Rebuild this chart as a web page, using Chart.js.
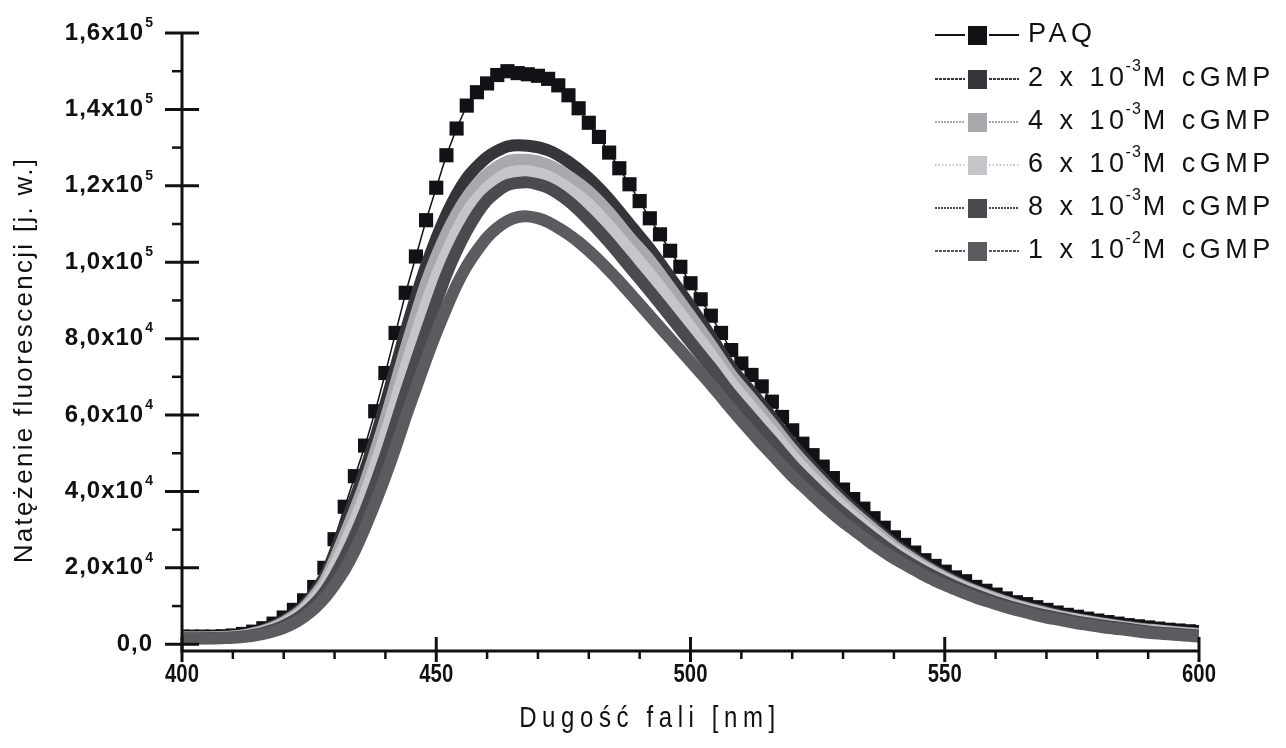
<!DOCTYPE html>
<html>
<head>
<meta charset="utf-8">
<script src="https://cdn.jsdelivr.net/npm/chart.js@4.4.1/dist/chart.umd.min.js"></script>
<style>
  html, body { margin: 0; padding: 0; background: #fff; }
  canvas { display: block; }
</style>
</head>
<body>
<canvas id="spectraChart" width="1286" height="748"></canvas>
<script>
// Wavelength grids [nm]
const wavelengthFine = [400, 402, 404, 406, 408, 410, 412, 414, 416, 418,
  420, 422, 424, 426, 428, 430, 432, 434, 436, 438,
  440, 442, 444, 446, 448, 450, 452, 454, 456, 458,
  460, 462, 464, 466, 468, 470, 472, 474, 476, 478,
  480, 482, 484, 486, 488, 490, 492, 494, 496, 498,
  500, 502, 504, 506, 508, 510, 512, 514, 516, 518,
  520, 522, 524, 526, 528, 530, 532, 534, 536, 538,
  540, 542, 544, 546, 548, 550, 552, 554, 556, 558,
  560, 562, 564, 566, 568, 570, 572, 574, 576, 578,
  580, 582, 584, 586, 588, 590, 592, 594, 596, 598, 600];

const wavelengthCoarse = [400, 404, 408, 412, 416, 420, 424, 428, 432, 436,
  440, 444, 448, 452, 456, 460, 464, 468, 472, 476,
  480, 484, 488, 492, 496, 500, 504, 508, 512, 516,
  520, 524, 528, 532, 536, 540, 544, 548, 552, 556,
  560, 564, 568, 572, 576, 580, 584, 588, 592, 596, 600];

// Fluorescence intensity
const paqValues = [2000, 2000, 2000, 2000, 2100, 2300, 2700, 3300, 4200, 5400,
  7000, 9000, 11500, 15000, 20000, 27500, 36000, 44000, 52000, 61000,
  71000, 81500, 92000, 101500, 111000, 119500, 128000, 135000, 141000, 144500,
  146800, 149000, 150000, 149500, 149200, 148800, 148000, 146300, 143700, 140300,
  136500, 132800, 128700, 124600, 120400, 116000, 111500, 107300, 103000, 98800,
  94500, 90300, 86000, 81500, 77000, 73500, 70500, 67500, 63500, 59500,
  56000, 52500, 49500, 46500, 43500, 40500, 38000, 35500, 33000, 30500,
  28000, 26000, 24000, 22000, 20500, 19000, 17500, 16500, 15000, 14000,
  13000, 12000, 11000, 10500, 9700, 9000, 8300, 7700, 7200, 6700,
  6200, 5800, 5400, 5000, 4700, 4400, 4100, 3800, 3600, 3400, 3200];

const cgmp2e3 = [1850, 1850, 1950, 2460, 3750, 6190, 10210, 17600, 31050, 45550,
  62900, 82000, 99000, 112500, 122000, 127500, 130300, 130500, 129300, 126300,
  122000, 116500, 110000, 103500, 96100, 88500, 80600, 72400, 66000, 59400,
  52400, 46400, 40700, 35600, 30900, 26400, 22700, 19400, 16600, 14200,
  12300, 10400, 9100, 7800, 6700, 5800, 5000, 4300, 3700, 3200, 2800];

const cgmp4e3 = [1780, 1780, 1880, 2340, 3530, 5790, 9570, 16400, 28600, 42300,
  58900, 77400, 94500, 107500, 117000, 123000, 126400, 126800, 125500, 122500,
  118500, 113000, 106500, 100500, 93300, 85900, 78400, 70500, 64200, 57700,
  51000, 45100, 39600, 34600, 30100, 25700, 22100, 18900, 16200, 13900,
  12000, 10200, 8800, 7500, 6500, 5600, 4800, 4100, 3600, 3100, 2700];

const cgmp6e3 = [1700, 1700, 1800, 2220, 3300, 5380, 8920, 15200, 26100, 39100,
  54800, 72500, 89000, 102500, 113000, 119500, 123300, 123800, 122400, 119300,
  115200, 109500, 103300, 97000, 90100, 83000, 75900, 68400, 62100, 55800,
  49300, 43600, 38300, 33500, 29100, 24900, 21500, 18400, 15800, 13500,
  11600, 9900, 8500, 7300, 6300, 5400, 4600, 3900, 3400, 2900, 2500];

const cgmp8e3 = [1600, 1600, 1700, 2060, 3000, 4840, 8060, 13600, 22800, 34800,
  49400, 66000, 81800, 96800, 108200, 116200, 120200, 120900, 119500, 116000,
  111000, 105200, 98800, 92400, 85800, 79100, 72500, 65500, 59300, 53200,
  47000, 41600, 36500, 32000, 27800, 23900, 20600, 17700, 15200, 13000,
  11100, 9500, 8100, 7000, 5900, 5100, 4400, 3700, 3100, 2700, 2300];

const cgmp1e2 = [1500, 1500, 1500, 1500, 1600, 1700, 1900, 2200, 2700, 3400,
  4300, 5500, 7200, 9300, 12000, 15500, 19500, 24500, 30500, 37000,
  44000, 51500, 59500, 67000, 74500, 81500, 88000, 94000, 99000, 103000,
  106500, 109000, 110800, 111800, 112000, 111500, 110500, 109000, 107300, 105300,
  103000, 100500, 97800, 95000, 92000, 89000, 86000, 83000, 80000, 77000,
  74000, 71000, 68000, 64800, 61600, 58500, 55500, 52500, 49700, 46800,
  44000, 41500, 39000, 36500, 34200, 32000, 30000, 28000, 26000, 24200,
  22500, 21000, 19500, 18000, 16700, 15500, 14400, 13300, 12300, 11400,
  10500, 9700, 9000, 8300, 7600, 7000, 6500, 6000, 5500, 5100,
  4700, 4300, 4000, 3700, 3300, 3000, 2800, 2600, 2400, 2200, 2000];

// Legend text parts: base, exponent, tail
const legendBase = ['PAQ', '2 x 10', '4 x 10', '6 x 10', '8 x 10', '1 x 10'];
const legendExp = ['', '-3', '-3', '-3', '-3', '-2'];
const legendTail = ['', 'M cGMP', 'M cGMP', 'M cGMP', 'M cGMP', 'M cGMP'];

// Axis ticks
const xMajorTicks = [400, 450, 500, 550, 600];
const xMinorTicks = [410, 420, 430, 440, 460, 470, 480, 490, 510, 520, 530, 540, 560, 570, 580, 590];
const yMajorTicks = [0, 20000, 40000, 60000, 80000, 100000, 120000, 140000, 160000];
const yMinorTicks = [10000, 30000, 50000, 70000, 90000, 110000, 130000, 150000];
const yTickBase = ['0,0', '2,0x10', '4,0x10', '6,0x10', '8,0x10', '1,0x10', '1,2x10', '1,4x10', '1,6x10'];
const yTickExp = ['', '4', '4', '4', '4', '5', '5', '5', '5'];

const xTitle = 'Dugość fali [nm]';
const yTitle = 'Natężenie fluorescencji [j. w.]';

function toPoints(xs, ys) {
    return xs.map((x, i) => ({ x: x, y: ys[i] }));
}

// Series styles (legend line dash goes with them)
const seriesStyle = [
    { color: '#121216', dash: [] },
    { color: '#36363a', dash: [3, 1] },
    { color: '#a9a9ad', dash: [2, 1] },
    { color: '#c6c6ca', dash: [1.5, 2] },
    { color: '#4b4b4f', dash: [2, 1] },
    { color: '#5c5c60', dash: [3, 1] }
];

function grayBand(label, xs, ys, idx, order) {
    return {
        label: label,
        data: toPoints(xs, ys),
        borderColor: seriesStyle[idx].color,
        backgroundColor: seriesStyle[idx].color,
        borderWidth: 12,
        borderJoinStyle: 'round',
        borderCapStyle: 'round',
        pointRadius: 0,
        tension: 0.25,
        order: order
    };
}

// Axes, tick labels, titles and legend drawn on top of the plot
const decorPlugin = {
    id: 'decor',
    afterDraw(chart) {
        const ctx = chart.ctx;
        const area = chart.chartArea;
        const xs = chart.scales.x;
        const ys = chart.scales.y;
        ctx.save();
        ctx.strokeStyle = '#111';
        ctx.fillStyle = '#111';

        // axis lines
        ctx.lineWidth = 3;
        ctx.beginPath();
        ctx.moveTo(area.left, area.top);
        ctx.lineTo(area.left, area.bottom + 1);
        ctx.lineTo(area.right, area.bottom + 1);
        ctx.stroke();

        // y ticks
        yMajorTicks.forEach(v => {
            const py = ys.getPixelForValue(v);
            ctx.beginPath();
            ctx.moveTo(area.left - 17, py);
            ctx.lineTo(area.left + 17, py);
            ctx.stroke();
        });
        ctx.lineWidth = 2.5;
        yMinorTicks.forEach(v => {
            const py = ys.getPixelForValue(v);
            ctx.beginPath();
            ctx.moveTo(area.left - 10, py);
            ctx.lineTo(area.left, py);
            ctx.stroke();
        });

        // x ticks
        ctx.lineWidth = 3;
        xMajorTicks.forEach(v => {
            const px = xs.getPixelForValue(v);
            ctx.beginPath();
            ctx.moveTo(px, area.bottom - 13);
            ctx.lineTo(px, area.bottom + 12);
            ctx.stroke();
        });
        ctx.lineWidth = 2.5;
        xMinorTicks.forEach(v => {
            const px = xs.getPixelForValue(v);
            ctx.beginPath();
            ctx.moveTo(px, area.bottom);
            ctx.lineTo(px, area.bottom + 9);
            ctx.stroke();
        });

        // y tick labels with raised exponent
        ctx.textBaseline = 'middle';
        yMajorTicks.forEach((v, i) => {
            const py = ys.getPixelForValue(v);
            const right = area.left - 29;
            let baseRight = right;
            if (yTickExp[i]) {
                ctx.font = 'bold 14px "Liberation Sans", Arial, sans-serif';
                ctx.textAlign = 'right';
                ctx.fillText(yTickExp[i], right, py - 10);
                baseRight = right - ctx.measureText(yTickExp[i]).width - 1;
            }
            ctx.font = 'bold 24px "Liberation Sans", Arial, sans-serif';
            ctx.letterSpacing = '1px';
            ctx.textAlign = 'right';
            ctx.fillText(yTickBase[i], baseRight, py);
            ctx.letterSpacing = '0px';
        });

        // x tick labels, condensed bold
        ctx.font = 'bold 26px "Liberation Sans", Arial, sans-serif';
        ctx.textAlign = 'center';
        xMajorTicks.forEach(v => {
            const px = xs.getPixelForValue(v);
            ctx.save();
            ctx.translate(px, area.bottom + 25);
            ctx.scale(0.78, 1);
            ctx.fillText(String(v), 0, 0);
            ctx.restore();
        });

        // x title
        ctx.save();
        ctx.font = '30px "Liberation Sans", Arial, sans-serif';
        ctx.letterSpacing = '7px';
        ctx.translate(650, 719);
        ctx.scale(0.8, 1);
        ctx.textAlign = 'center';
        ctx.fillText(xTitle, 0, 0);
        ctx.restore();

        // y title
        ctx.save();
        ctx.font = '26px "Liberation Sans", Arial, sans-serif';
        ctx.letterSpacing = '2.3px';
        ctx.translate(25, 360);
        ctx.rotate(-Math.PI / 2);
        ctx.textAlign = 'center';
        ctx.fillText(yTitle, 0, 0);
        ctx.restore();

        // legend
        const rowY = [35, 79, 122, 165, 208, 251];
        chart.data.datasets.forEach((ds, i) => {
            const y = rowY[i];
            const st = seriesStyle[i];
            ctx.strokeStyle = i === 0 ? '#111' : st.color;
            ctx.lineWidth = 2;
            ctx.setLineDash(st.dash);
            ctx.beginPath();
            ctx.moveTo(935, y);
            ctx.lineTo(965, y);
            ctx.moveTo(989, y);
            ctx.lineTo(1019, y);
            ctx.stroke();
            ctx.setLineDash([]);
            ctx.fillStyle = st.color;
            ctx.fillRect(968, y - 9, 19, 19);

            ctx.fillStyle = '#111';
            ctx.textAlign = 'left';
            ctx.textBaseline = 'middle';
            ctx.font = '27px "Liberation Sans", Arial, sans-serif';
            ctx.letterSpacing = '4.5px';
            let x = 1028;
            ctx.fillText(legendBase[i], x, y);
            x += ctx.measureText(legendBase[i]).width;
            if (legendExp[i]) {
                ctx.font = '16px "Liberation Sans", Arial, sans-serif';
                ctx.letterSpacing = '1px';
                ctx.fillText(legendExp[i], x - 3, y - 12);
                x += ctx.measureText(legendExp[i]).width - 2;
                ctx.font = '27px "Liberation Sans", Arial, sans-serif';
                ctx.letterSpacing = '4.5px';
                ctx.fillText(legendTail[i], x, y);
            }
        });
        ctx.letterSpacing = '0px';
        ctx.restore();
    }
};

const spectraCtx = document.getElementById('spectraChart').getContext('2d');
window.spectraChart = new Chart(spectraCtx, {
    type: 'line',
    data: {
        datasets: [
            {
                label: 'PAQ',
                data: toPoints(wavelengthFine, paqValues),
                borderColor: seriesStyle[0].color,
                backgroundColor: seriesStyle[0].color,
                borderWidth: 1.5,
                pointStyle: 'rect',
                pointRadius: 10,
                pointBorderWidth: 0,
                pointBackgroundColor: seriesStyle[0].color,
                tension: 0,
                order: 6
            },
            grayBand('2 x 10-3M cGMP', wavelengthCoarse, cgmp2e3, 1, 5),
            grayBand('4 x 10-3M cGMP', wavelengthCoarse, cgmp4e3, 2, 4),
            grayBand('6 x 10-3M cGMP', wavelengthCoarse, cgmp6e3, 3, 3),
            grayBand('8 x 10-3M cGMP', wavelengthCoarse, cgmp8e3, 4, 2),
            grayBand('1 x 10-2M cGMP', wavelengthFine, cgmp1e2, 5, 1)
        ]
    },
    options: {
        responsive: false,
        animation: false,
        layout: {
            padding: { left: 0, right: 87, top: 33, bottom: 0 }
        },
        scales: {
            x: {
                type: 'linear',
                min: 400,
                max: 600,
                grid: { display: false, drawTicks: false },
                border: { display: false },
                ticks: { display: false },
                afterFit: function(scale) { scale.height = 98; }
            },
            y: {
                type: 'linear',
                min: -1500,
                max: 160000,
                grid: { display: false, drawTicks: false },
                border: { display: false },
                ticks: { display: false },
                afterFit: function(scale) { scale.width = 182; }
            }
        },
        plugins: {
            legend: { display: false },
            tooltip: { enabled: false }
        }
    },
    plugins: [decorPlugin]
});
</script>
</body>
</html>
